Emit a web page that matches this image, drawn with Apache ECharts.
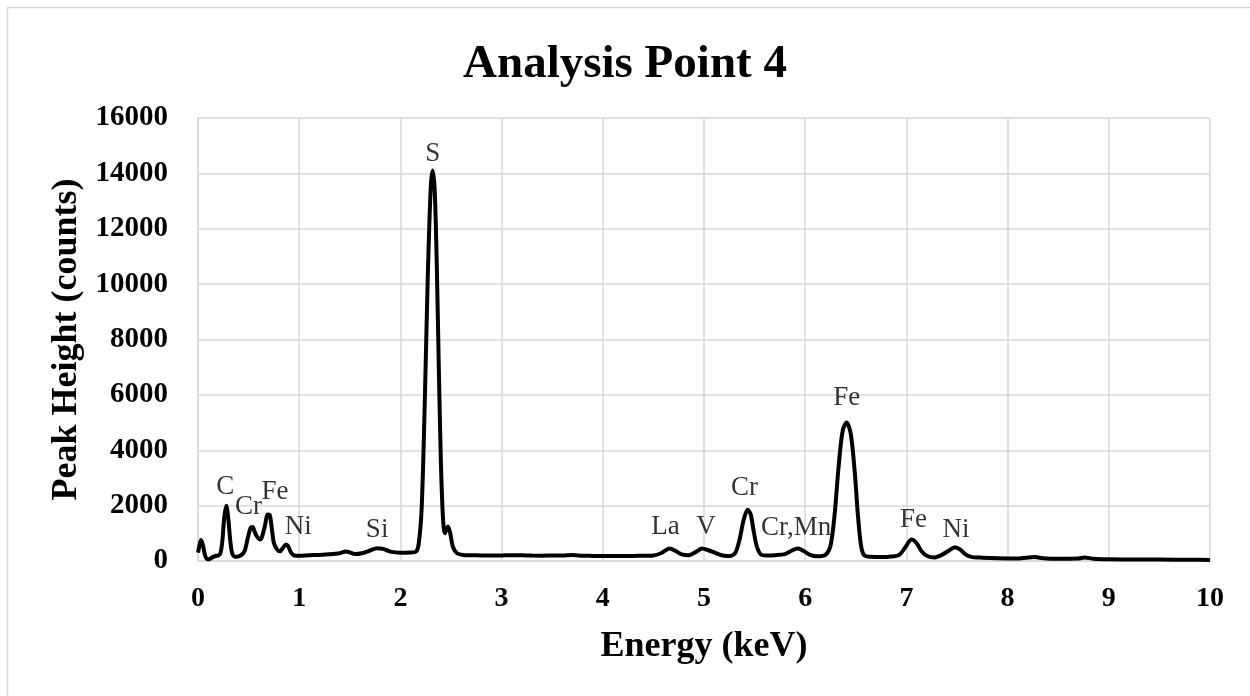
<!DOCTYPE html>
<html>
<head>
<meta charset="utf-8">
<script src="https://cdn.jsdelivr.net/npm/echarts@6/dist/echarts.min.js"></script>
<style>
html, body { margin: 0; padding: 0; background: #fff; }
#main { width: 1250px; height: 696px; }
</style>
</head>
<body>
<div id="main"></div>
<script>
// spectrum (keV, counts)
var energy = [
	0.00, 0.02, 0.03, 0.05, 0.07, 0.09, 0.11, 0.13, 0.15, 0.18, 0.20, 0.22, 0.24, 0.26, 0.28, 0.30, 0.32, 0.34, 0.37, 0.40,
	0.43, 0.46, 0.49, 0.52, 0.54, 0.56, 0.58, 0.61, 0.63, 0.66, 0.69, 0.71, 0.73, 0.75, 0.78, 0.81, 0.84, 0.87, 0.89, 0.92,
	0.95, 1.00, 1.10, 1.20, 1.30, 1.40, 1.46, 1.50, 1.55, 1.62, 1.70, 1.77, 1.83, 1.90, 2.00, 2.10, 2.15, 2.18, 2.21, 2.24,
	2.27, 2.30, 2.32, 2.34, 2.36, 2.38, 2.40, 2.42, 2.44, 2.47, 2.49, 2.52, 2.56, 2.62, 2.70, 2.80, 2.90, 3.00, 3.10, 3.20,
	3.30, 3.40, 3.50, 3.60, 3.70, 3.80, 3.90, 4.00, 4.10, 4.20, 4.30, 4.40, 4.50, 4.58, 4.66, 4.72, 4.78, 4.85, 4.92, 4.98,
	5.05, 5.12, 5.20, 5.26, 5.31, 5.35, 5.39, 5.43, 5.46, 5.49, 5.52, 5.56, 5.62, 5.70, 5.80, 5.87, 5.93, 5.99, 6.05, 6.12,
	6.20, 6.25, 6.29, 6.33, 6.37, 6.41, 6.45, 6.49, 6.52, 6.55, 6.58, 6.65, 6.75, 6.85, 6.93, 6.99, 7.05, 7.10, 7.15, 7.21,
	7.28, 7.35, 7.42, 7.48, 7.53, 7.58, 7.64, 7.75, 7.90, 8.10, 8.27, 8.35, 8.50, 8.70, 8.76, 8.85, 9.00, 9.20, 9.50, 9.80,
	10.00
];
var counts = [
	300, 650, 760, 550, 200, 70, 60, 110, 150, 190, 200, 260, 700, 1600, 2000, 1500, 700, 250, 150, 170,
	220, 350, 800, 1200, 1230, 1050, 900, 780, 850, 1250, 1680, 1650, 1150, 650, 420, 350, 480, 600, 540, 300,
	200, 190, 210, 220, 240, 280, 340, 310, 250, 280, 380, 460, 440, 340, 300, 310, 330, 600, 1900, 5600,
	10200, 13500, 14100, 13300, 10600, 6900, 3600, 1600, 1000, 1250, 1050, 500, 280, 220, 210, 200, 195, 200, 210, 205,
	195, 190, 200, 200, 215, 190, 185, 180, 185, 180, 185, 190, 200, 290, 450, 360, 240, 210, 330, 450,
	380, 280, 190, 180, 300, 750, 1450, 1850, 1700, 1100, 550, 240, 200, 210, 250, 380, 450, 350, 220, 170,
	220, 550, 1650, 3400, 4700, 5000, 4600, 3200, 1700, 600, 220, 150, 140, 160, 220, 500, 780, 650, 350, 170,
	130, 220, 380, 500, 420, 250, 150, 120, 100, 90, 140, 100, 80, 90, 130, 80, 60, 55, 50, 45,
	40
];

// element labels and where their text sits (keV, counts)
var peakNames = ['C', 'Cr', 'Fe', 'Ni', 'Si', 'S', 'La', 'V', 'Cr', 'Cr,Mn', 'Fe', 'Fe', 'Ni'];
var peakLabelX = [0.27, 0.50, 0.76, 0.99, 1.77, 2.32, 4.62, 5.02, 5.40, 5.91, 6.41, 7.07, 7.49];
var peakLabelY = [2660, 1950, 2480, 1220, 1120, 14720, 1220, 1220, 2630, 1190, 5900, 1480, 1120];

var xTicks = [0, 1, 2, 3, 4, 5, 6, 7, 8, 9, 10];
var yTicks = [0, 2000, 4000, 6000, 8000, 10000, 12000, 14000, 16000];

var serif = '"Liberation Serif", "Times New Roman", serif';

var chart = echarts.init(document.getElementById('main'));

var lineData = [];
for (var i = 0; i < energy.length; i++) {
	lineData.push([energy[i], counts[i]]);
}
var labelData = [];
for (var j = 0; j < peakNames.length; j++) {
	labelData.push({ value: [peakLabelX[j], peakLabelY[j]], name: peakNames[j] });
}

var option = {
	backgroundColor: '#fff',
	animation: false,
	title: {
		text: 'Analysis Point 4',
		left: 'center',
		top: 36,
		textStyle: { fontFamily: serif, fontWeight: 'bold', fontSize: 47, color: '#000' }
	},
	graphic: [{
		type: 'rect',
		shape: { x: 7.5, y: 7.5, width: 1300, height: 760 },
		style: { fill: 'none', stroke: '#d9d9d9', lineWidth: 1.5 },
		silent: true
	}],
	grid: { left: 198, right: 40, top: 118, bottom: 135 },
	xAxis: {
		type: 'value',
		min: xTicks[0],
		max: xTicks[xTicks.length - 1],
		interval: 1,
		name: 'Energy (keV)',
		nameLocation: 'middle',
		nameGap: 68,
		nameTextStyle: { fontFamily: serif, fontWeight: 'bold', fontSize: 36, color: '#000' },
		axisLine: { lineStyle: { color: '#d9d9d9', width: 1.5 } },
		axisTick: { show: false },
		axisLabel: { fontFamily: serif, fontWeight: 'bold', fontSize: 28, color: '#000', margin: 24 },
		splitLine: { show: true, lineStyle: { color: '#d9d9d9', width: 1.5 } }
	},
	yAxis: {
		type: 'value',
		min: yTicks[0],
		max: yTicks[yTicks.length - 1],
		interval: 2000,
		name: 'Peak Height (counts)',
		nameLocation: 'middle',
		nameGap: 112,
		nameTextStyle: { fontFamily: serif, fontWeight: 'bold', fontSize: 36, color: '#000' },
		axisLine: { show: true, lineStyle: { color: '#d9d9d9', width: 1.5 } },
		axisTick: { show: false },
		axisLabel: {
			fontFamily: serif, fontWeight: 'bold', fontSize: 29, color: '#000', margin: 30,
			formatter: function (v) { return String(v); }
		},
		splitLine: { show: true, lineStyle: { color: '#d9d9d9', width: 1.5 } }
	},
	series: [{
		name: 'spectrum',
		type: 'line',
		data: lineData,
		smooth: 0.3,
		symbol: 'none',
		lineStyle: { color: '#000', width: 4 },
		z: 3
	}, {
		name: 'labels',
		type: 'scatter',
		data: labelData,
		symbolSize: 0,
		silent: true,
		itemStyle: { color: '#000' },
		label: {
			show: true,
			position: [0, 0],
			align: 'center',
			verticalAlign: 'middle',
			formatter: '{b}',
			fontFamily: serif,
			fontSize: 27,
			color: '#000',
			textBorderWidth: 0
		},
		z: 4
	}]
};
chart.setOption(option);
</script>
</body>
</html>
